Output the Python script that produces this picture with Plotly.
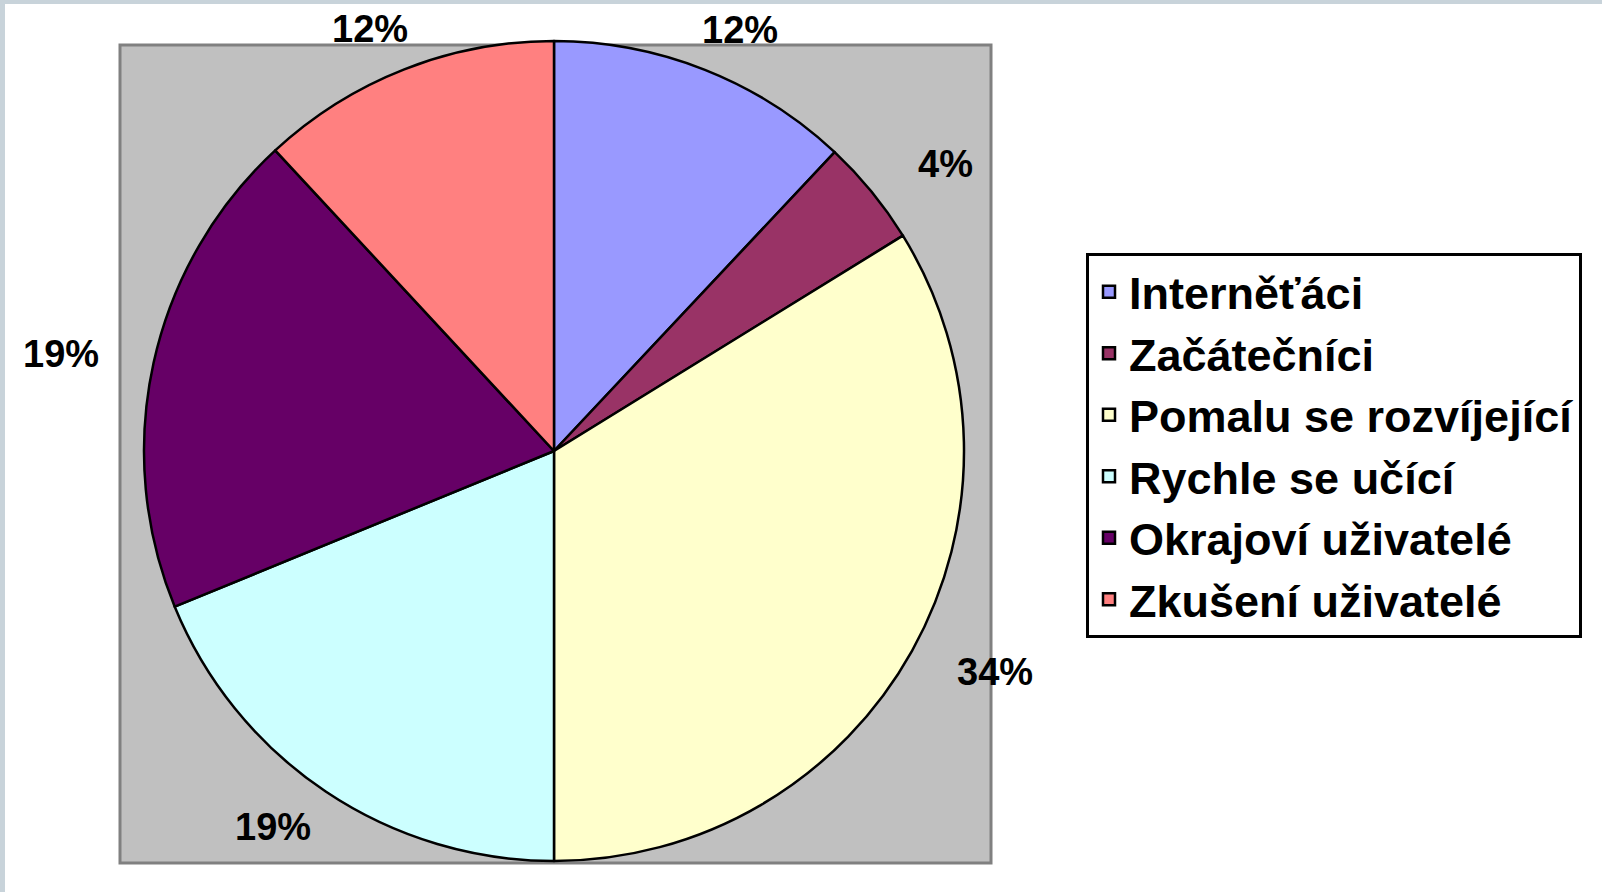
import math
import plotly.graph_objects as go

categories = ["Interněťáci", "Začátečníci", "Pomalu se rozvíjející",
              "Rychle se učící", "Okrajoví uživatelé", "Zkušení uživatelé"]
values = [12.0, 4.2, 33.8, 18.8, 19.3, 11.9]
colors = ["#9999ff", "#993366", "#ffffcc", "#ccffff", "#660066", "#ff8080"]

W, H = 1602, 892
CX, CY, R = 554, 451, 410      # pie centre / radius in px
LX, LY = 505, 453              # label ellipse radii (px) around the centre
FONT = "Liberation Sans, Arial"

fig = go.Figure()
fig.add_trace(go.Pie(
    labels=categories,
    values=values,
    sort=False,
    direction="clockwise",
    rotation=0,
    marker=dict(colors=colors, line=dict(color="black", width=2.5)),
    textinfo="none",
    domain=dict(x=[(CX - R) / W, (CX + R) / W],
                y=[(H - CY - R) / H, (H - CY + R) / H]),
    hoverinfo="label+percent",
))

# percent labels placed outside each slice, derived from the values
total = sum(values)
annotations = []
cum = 0.0
for v in values:
    mid = (cum + v / 2) / total * 2 * math.pi
    cum += v
    px = CX + LX * math.sin(mid)
    py = CY - LY * math.cos(mid)
    annotations.append(dict(
        x=px / W, y=(H - py) / H, xref="paper", yref="paper",
        xanchor="center", yanchor="middle", showarrow=False,
        text=f"{round(v / total * 100)}%",
        font=dict(family=FONT, size=38, color="black", weight="bold"),
    ))

shapes = [
    # grey plot area
    dict(type="rect", xref="paper", yref="paper", layer="below",
         x0=120 / W, x1=991 / W, y0=(H - 863) / H, y1=(H - 45) / H,
         fillcolor="#c0c0c0", line=dict(color="#808080", width=3)),
    # outer frame strips
    dict(type="rect", xref="paper", yref="paper", layer="below",
         x0=0, x1=1, y0=(H - 4) / H, y1=1, fillcolor="#c8d3da", line=dict(width=0)),
    dict(type="rect", xref="paper", yref="paper", layer="below",
         x0=0, x1=5 / W, y0=0, y1=1, fillcolor="#c8d3da", line=dict(width=0)),
]

fig.update_layout(
    width=W, height=H,
    margin=dict(l=0, r=0, t=0, b=0),
    paper_bgcolor="white",
    plot_bgcolor="white",
    shapes=shapes,
    annotations=annotations,
    showlegend=True,
    legend=dict(
        x=1086 / W, y=(H - 253) / H, xanchor="left", yanchor="top",
        bgcolor="white", bordercolor="black", borderwidth=3,
        font=dict(family=FONT, size=45, color="black", weight="bold"),
    ),
)

fig.write_html("out.html", config={"displayModeBar": False},
               post_script="document.body.style.margin='0';")
